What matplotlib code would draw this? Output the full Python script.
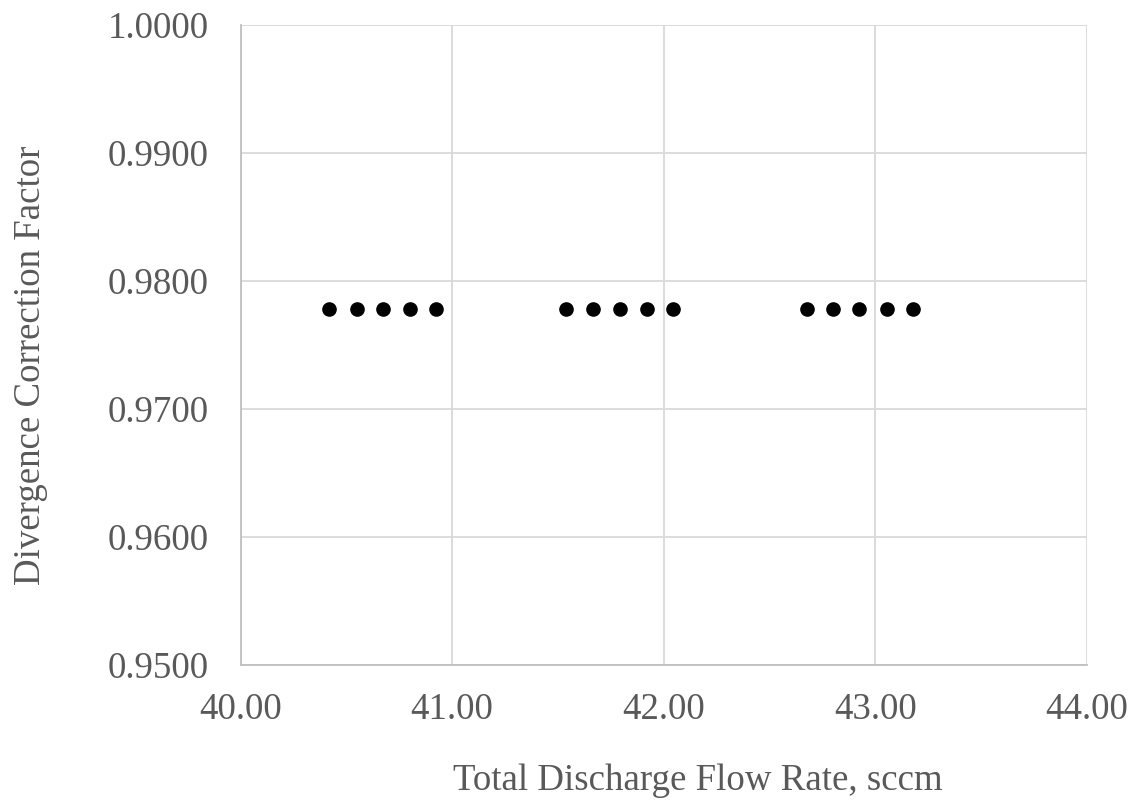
import numpy as np
import matplotlib
matplotlib.use("Agg")
import matplotlib.pyplot as plt

# discharge flow rate (sccm) and the divergence correction factor at each
flow_rate = [40.42, 40.55, 40.675, 40.80, 40.925,
             41.54, 41.665, 41.795, 41.92, 42.045,
             42.675, 42.80, 42.925, 43.055, 43.18]
correction = [0.9778] * 15

x_ticks = [40.0, 41.0, 42.0, 43.0, 44.0]
y_ticks = [0.95, 0.96, 0.97, 0.98, 0.99, 1.0]

plt.rcParams["font.family"] = ["Liberation Serif", "DejaVu Serif"]
text_col = "#595959"
grid_col = "#d9d9d9"
fs = 26.6

fig = plt.figure(figsize=(11.35, 8), dpi=100)
ax = fig.add_axes([0.2119, 0.16875, 0.9577 - 0.2119, 0.96875 - 0.16875])

ax.plot(flow_rate, correction, "o", color="black", markersize=9.5, zorder=3)

ax.set_xlim(40, 44)
ax.set_ylim(0.95, 1.0)
ax.set_xticks(x_ticks)
ax.set_yticks(y_ticks)
ax.set_xticklabels(["%.2f" % v for v in x_ticks])
ax.set_yticklabels(["%.4f" % v for v in y_ticks])
ax.grid(True, color=grid_col, linewidth=1.3)
ax.set_axisbelow(True)

for side in ["top", "right"]:
    ax.spines[side].set_visible(False)
for side in ["left", "bottom"]:
    ax.spines[side].set_color("#bfbfbf")
    ax.spines[side].set_linewidth(1.3)

ax.tick_params(axis="both", length=0, labelsize=fs, labelcolor=text_col)
ax.tick_params(axis="x", pad=20)
ax.tick_params(axis="y", pad=23)

# axis titles placed in figure coordinates
fig.text(698 / 1135, 10 / 800, "Total Discharge Flow Rate, sccm",
         fontsize=fs, color=text_col, ha="center", va="baseline")
fig.text(40 / 1135, 1 - 365 / 800, "Divergence Correction Factor",
         fontsize=fs, color=text_col, rotation=90, rotation_mode="anchor",
         ha="center", va="baseline")

fig.savefig("out.png", dpi=100)
